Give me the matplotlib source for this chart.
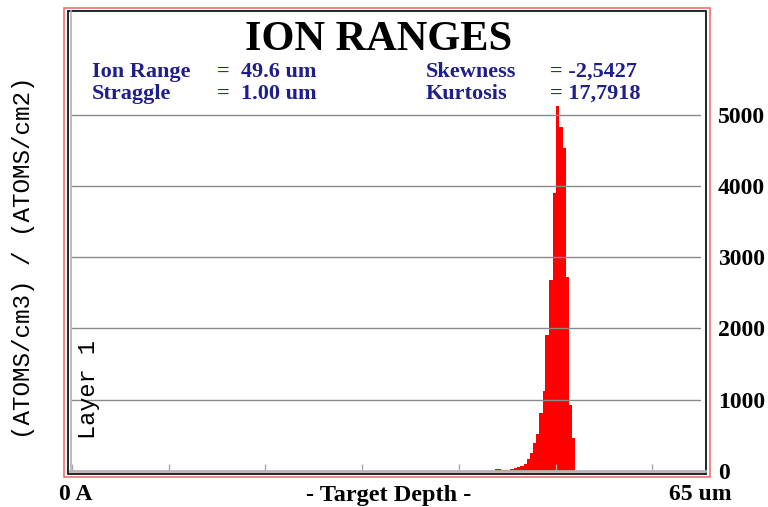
import numpy as np
import matplotlib.pyplot as plt
from matplotlib.patches import Rectangle
from matplotlib.lines import Line2D
from matplotlib.transforms import Affine2D

# depth histogram: bin edges (um) and ion counts per bin
depth_edges = [43.76, 44.38, 44.84, 45.31, 45.72, 46.06, 46.37, 46.69, 47.04, 47.38,
               47.72, 47.97, 48.34, 48.68, 48.96, 49.31, 49.69, 50.00, 50.39, 50.73,
               51.08, 51.42, 51.70, 52.00]
ions = [24, 10, 12, 20, 34, 56, 70, 100, 165, 245,
        385, 516, 815, 1125, 1905, 2685, 3910, 5120, 4825, 4530,
        2720, 930, 460]

y_ticks = [0, 1000, 2000, 3000, 4000, 5000]
x_ticks = [0, 10, 20, 30, 40, 50, 60]
depth_max = 65

stats_left = [("Ion Range", "=  49.6 um"), ("Straggle", "=  1.00 um")]
stats_right = [("Skewness", "= -2,5427"), ("Kurtosis", "= 17,7918")]

plt.rcParams['font.family'] = 'Liberation Serif'
plt.rcParams['font.weight'] = 'bold'

W, H = 768, 507
fig = plt.figure(figsize=(W / 100, H / 100), dpi=100)
# pixel coordinates with origin at the top-left corner
px = Affine2D().scale(1 / W, -1 / H).translate(0, 1) + fig.transFigure

x0, x1, y0 = 72, 700.6, 470.7
ymax = 5250
ppu = 355.7 / 5000
ax = fig.add_axes([x0 / W, 1 - y0 / H, (x1 - x0) / W, ymax * ppu / H])
ax.set_xlim(0, depth_max)
ax.set_ylim(0, ymax)
ax.set_facecolor('none')
for s in ax.spines.values():
    s.set_visible(False)

ax.bar(depth_edges[:-1], ions, width=np.diff(depth_edges), align='edge',
       color='#ff0000', linewidth=0, zorder=2)

for v in y_ticks[1:]:
    ax.axhline(v, color='#8a8a8a', lw=1, zorder=3)
ax.vlines(x_ticks, 0, 100, color='#a8a8a8', lw=1, zorder=3)

ax.set_xticks([])
ax.yaxis.tick_right()
ax.set_yticks(y_ticks)
ax.set_yticklabels([str(v) for v in y_ticks])
ax.tick_params(axis='y', length=0, pad=12.5, labelsize=17)

# frames
fig.add_artist(Rectangle((63.5, 7.5), 646, 469.5, transform=px, fill=False,
                         edgecolor='#f07070', lw=1.2))
fig.add_artist(Rectangle((67.5, 10.5), 638, 463, transform=px, fill=False,
                         edgecolor='black', lw=1.2))
fig.add_artist(Line2D([70.5, 70.5], [11, 471], transform=px, color='#b0b0b0', lw=1.2))
fig.add_artist(Line2D([70, 705], [y0, y0], transform=px, color='#b4b4b4', lw=2))

# title and statistics
fig.text(379, 40, "ION RANGES", transform=px, ha='center', va='center', fontsize=30.5)
blue = '#1e1e8c'
for i, (name, val) in enumerate(stats_left):
    y = 72 + 22 * i
    fig.text(92, y, name, transform=px, va='center', fontsize=16, color=blue)
    fig.text(217, y, val, transform=px, va='center', fontsize=16, color=blue)
for i, (name, val) in enumerate(stats_right):
    y = 72 + 22 * i
    fig.text(426, y, name, transform=px, va='center', fontsize=16, color=blue)
    fig.text(550, y, val, transform=px, va='center', fontsize=16, color=blue)

# axis labels
fig.text(59, 495, "0 A", transform=px, ha='left', va='center', fontsize=17)
fig.text(389, 495, "- Target Depth -", transform=px, ha='center', va='center', fontsize=17.5)
fig.text(732, 495, "65 um", transform=px, ha='right', va='center', fontsize=17)
fig.text(24, 258, "(ATOMS/cm3) / (ATOMS/cm2)", transform=px, rotation=90,
         ha='center', va='center', fontsize=17.5, family='Liberation Mono', weight='normal')
fig.text(88, 390, "Layer 1", transform=px, rotation=90, ha='center', va='center',
         fontsize=17, family='Liberation Mono', weight='normal')

fig.savefig('out.png', dpi=100)
